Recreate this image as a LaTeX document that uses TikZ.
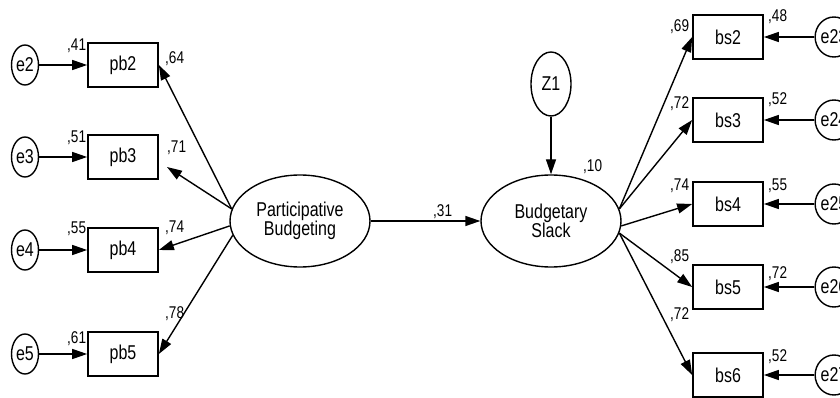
\documentclass[tikz,border=0pt]{standalone}
\usepackage{fontspec}
\setmainfont{Liberation Sans}[FakeStretch=0.8]
\usetikzlibrary{shapes.geometric,arrows.meta,calc}
\begin{document}
\begin{tikzpicture}[x=1pt,y=-1pt,
  lat/.style={ellipse,draw,line width=1.4pt,minimum width=140pt,minimum height=92pt,inner sep=0pt,align=center,font=\fontsize{20}{18.5}\selectfont},
  obs/.style={rectangle,draw,line width=1.7pt,minimum width=70pt,minimum height=44pt,inner sep=0pt,font=\fontsize{20}{20}\selectfont},
  err/.style={ellipse,draw,line width=1.4pt,minimum width=27pt,minimum height=40pt,inner sep=0pt,font=\fontsize{20}{20}\selectfont},
  arr/.style={-{Triangle[length=15pt,width=10pt]},line width=1.4pt},
  coef/.style={anchor=north west,inner sep=0pt,font=\fontsize{17}{17}\selectfont}]
\clip (0,0) rectangle (840,398);
% latent variables
\node[lat] (PB) at (300,221) {Participative\\Budgeting};
\node[lat] (BS) at (551,221) {Budgetary\\Slack};
\node[ellipse,draw,line width=1.4pt,minimum width=40pt,minimum height=64pt,inner sep=0pt,font=\fontsize{20}{20}\selectfont] (Z1) at (551,84) {Z1};
% left indicators
\node[obs] (pb2) at (123,65) {pb2};
\node[obs] (pb3) at (123,157) {pb3};
\node[obs] (pb4) at (123,250) {pb4};
\node[obs] (pb5) at (123,354) {pb5};
\node[err] (e2) at (25,65) {e2};
\node[err] (e3) at (25,157) {e3};
\node[err] (e4) at (25,250) {e4};
\node[err] (e5) at (25,354) {e5};
% right indicators
\node[obs] (bs2) at (728,37) {bs2};
\node[obs] (bs3) at (728,120) {bs3};
\node[obs] (bs4) at (728,204) {bs4};
\node[obs] (bs5) at (728,287) {bs5};
\node[obs] (bs6) at (728,375) {bs6};
\node[err] (e23) at (834,37) {e23};
\node[err] (e24) at (834,120) {e24};
\node[err] (e25) at (834,204) {e25};
\node[err] (e26) at (834,287) {e26};
\node[err] (e27) at (834,375) {e27};
\coordinate (t3) at (167,167);
% connectors
\draw[arr] (e2) -- (pb2);
\draw[arr] (e3) -- (pb3);
\draw[arr] (e4) -- (pb4);
\draw[arr] (e5) -- (pb5);
\draw[arr] (PB.170) -- (pb2.east);
\draw[arr] (PB.170) -- (t3);
\draw[arr] (PB.184) -- (pb4.east);
\draw[arr] (PB.192) -- (pb5.east);
\draw[arr] (PB) -- (BS);
\draw[arr] (Z1) -- (BS);
\draw[arr] (BS.10) -- (bs2.west);
\draw[arr] (BS.10) -- (bs3.west);
\draw[arr] (BS.356) -- (bs4.west);
\draw[arr] (BS.350) -- (bs5.west);
\draw[arr] (BS.350) -- (bs6.west);
\draw[arr] (e23) -- (bs2);
\draw[arr] (e24) -- (bs3);
\draw[arr] (e25) -- (bs4);
\draw[arr] (e26) -- (bs5);
\draw[arr] (e27) -- (bs6);
% coefficients
\node[coef] (c41) at (67,39) {,41};
\node[coef] (c51) at (67,131) {,51};
\node[coef] (c55) at (67,222) {,55};
\node[coef] (c61) at (67,331) {,61};
\node[coef] (c64) at (165,51) {,64};
\node[coef] (c71) at (167,141) {,71};
\node[coef] (c74) at (165,221) {,74};
\node[coef] (c78) at (165,306) {,78};
\node[coef] (c31) at (433,204) {,31};
\node[coef] (c10) at (583,159) {,10};
\node[coef] (c69) at (670,19) {,69};
\node[coef] (c72a) at (670,96) {,72};
\node[coef] (c74b) at (670,179) {,74};
\node[coef] (c85) at (670,249) {,85};
\node[coef] (c72b) at (670,307) {,72};
\node[coef] (c48) at (768,9) {,48};
\node[coef] (c52a) at (768,92) {,52};
\node[coef] (c55b) at (768,179) {,55};
\node[coef] (c72c) at (768,266) {,72};
\node[coef] (c52b) at (768,349) {,52};
\end{tikzpicture}
\end{document}
